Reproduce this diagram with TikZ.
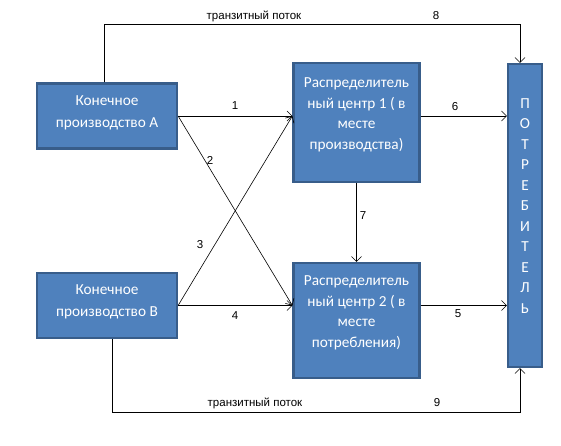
\documentclass[tikz,border=0pt]{standalone}
\usepackage{fontspec}
\setmainfont{Carlito}
\newfontfamily\lblfont{Liberation Sans}
\usetikzlibrary{arrows.meta}
\definecolor{boxfill}{HTML}{4F81BD}
\definecolor{boxline}{HTML}{385D8A}
\tikzset{
  box/.style={draw=boxline, line width=2.2pt, fill=boxfill, inner sep=0pt},
  boxtext/.style={align=center, text=white, inner sep=0pt, font=\fontsize{15.3}{20.5}\selectfont},
  flow/.style={draw=black, line width=0.6pt, -{Straight Barb[length=5pt,width=10pt]}},
  lbl/.style={font=\lblfont\fontsize{11.5}{12}\selectfont, inner sep=0pt}
}
\begin{document}
\begin{tikzpicture}[x=1pt,y=-1pt]
\useasboundingbox (0,0) rectangle (561,446);
% boxes
\node[box, minimum width=140pt, minimum height=65pt] (A) at (107,116) {};
\node[boxtext, font=\fontsize{15.3}{22}\selectfont] (At) at (107,113) {Конечное\\производство А};
\node[box, minimum width=140pt, minimum height=65pt] (B) at (107,305.5) {};
\node[boxtext, font=\fontsize{15.3}{22}\selectfont] (Bt) at (107,302) {Конечное\\производство В};
\node[box, minimum width=126pt, minimum height=119pt] (D1) at (356.5,122.5) {};
\node[boxtext] (D1t) at (356.5,115) {Распределитель\\ный центр 1 ( в\\месте\\производства)};
\node[box, minimum width=126pt, minimum height=115pt] (D2) at (356.5,320.5) {};
\node[boxtext] (D2t) at (356.5,313) {Распределитель\\ный центр 2 ( в\\месте\\потребления)};
\node[box, minimum width=34pt, minimum height=303pt] (C) at (525,215.5) {};
\node[boxtext] (Ct) at (525,206) {П\\О\\Т\\Р\\Е\\Б\\И\\Т\\Е\\Л\\Ь};
% connection points
\coordinate (d1a) at (D1.west |- A.east);
\coordinate (d2b) at (D2.west |- B.east);
\coordinate (c1) at (C.west |- A.east);
\coordinate (c2) at (C.west |- B.east);
% flows
\draw[flow] (A.east) -- (d1a);
\draw[flow] (A.east) -- (d2b);
\draw[flow] (B.east) -- (d1a);
\draw[flow] (B.east) -- (d2b);
\draw[flow] (D1.east |- A.east) -- (c1);
\draw[flow] (D2.east |- B.east) -- (c2);
\draw[flow] (D1.south) -- (D2.north);
\coordinate (t1) at (104,24);
\coordinate (t2) at (520,24);
\draw[flow] (A.north -| t1) -- (t1) -- (t2) -- (t2 |- C.north);
\coordinate (b1) at (112,412);
\coordinate (b2) at (520,412);
\draw[flow] (B.south -| b1) -- (b1) -- (b2) -- (b2 |- C.south);
% labels
\node[lbl] (l1) at (235,106) {1};
\node[lbl] (l2) at (210,160) {2};
\node[lbl] (l3) at (200,245) {3};
\node[lbl] (l4) at (235,316) {4};
\node[lbl] (l5) at (458,314) {5};
\node[lbl] (l6) at (455,107) {6};
\node[lbl] (l7) at (363,216) {7};
\node[lbl] (l8) at (436,16) {8};
\node[lbl] (l9) at (437,403) {9};
\node[lbl] (t8) at (254,16) {транзитный поток};
\node[lbl] (t9) at (255,403) {транзитный поток};
\end{tikzpicture}
\end{document}
